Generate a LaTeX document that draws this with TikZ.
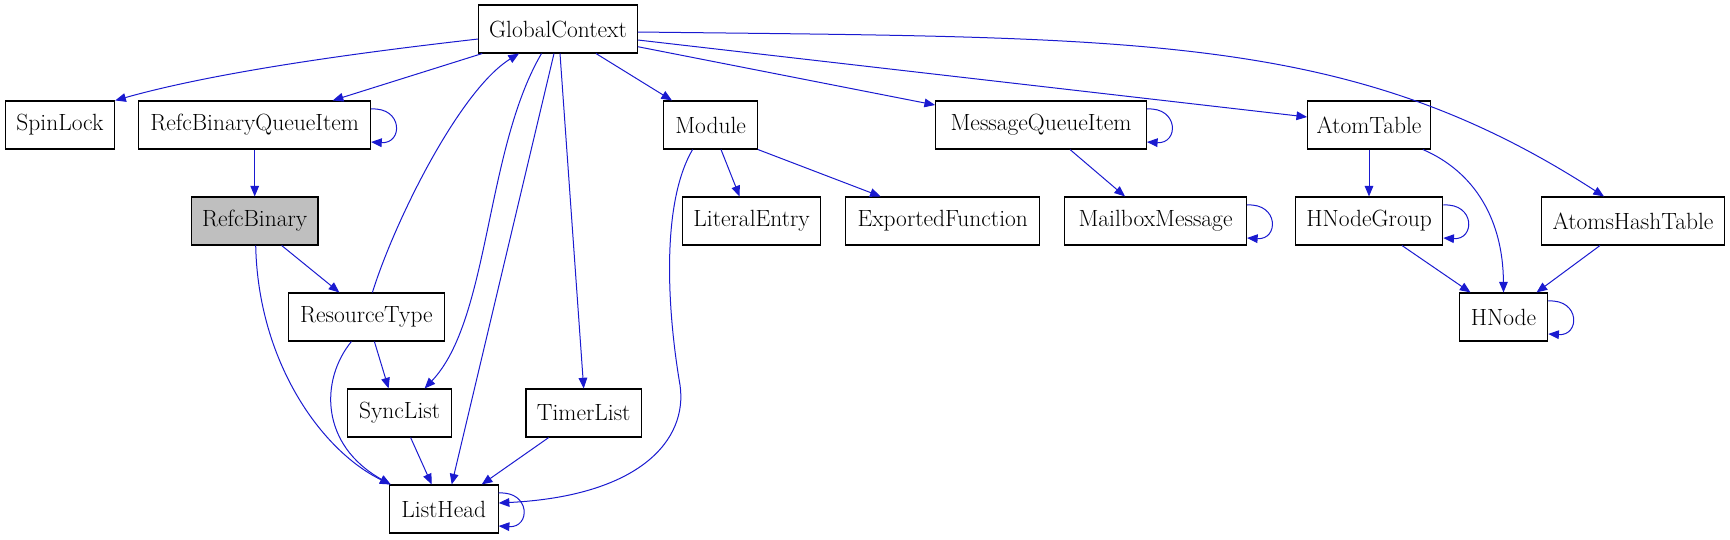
\documentclass[tikz,border=0pt]{standalone}
\usetikzlibrary{arrows.meta,calc}
\definecolor{edgeblue}{RGB}{26,26,208}
\definecolor{nodegray}{RGB}{191,191,191}
\begin{document}
\begin{tikzpicture}[x=0.75pt,y=-0.75pt,>={Triangle[length=8pt,width=6.5pt]},
  font=\fontsize{17.6}{20}\selectfont,
  box/.style={draw,line width=0.8pt,minimum height=36pt,inner sep=2pt},
  edge/.style={->,edgeblue,line width=0.75pt}]
\useasboundingbox (0,0) rectangle (1730,539);
% nodes, row by row
\foreach \nm/\x/\y/\w/\txt in {gc/558/29/118.9/GlobalContext,
  spin/60/125/82/SpinLock,rbqi/254.7/125/173.8/RefcBinaryQueueItem,
  mod/710.6/125/70.2/Module,mqi/1041/125/158.1/MessageQueueItem,
  atab/1369/125/92/AtomTable,
  lit/751.6/221/103.8/LiteralEntry,expf/942.7/221/145.7/ExportedFunction,
  mbox/1155.5/221/136.4/MailboxMessage,hng/1369/221/110.6/HNodeGroup,
  aht/1633/221/137/AtomsHashTable,
  restype/366.4/317/117.3/ResourceType,hnode/1503.5/317/66.3/HNode,
  sync/399.6/413/78.2/SyncList,timer/583.7/413/86.6/TimerList,
  lhead/443.7/509/81.7/ListHead}
  \node[box,minimum width=\w pt] (\nm) at (\x,\y) {\txt};
\node[box,fill=nodegray,minimum width=94.9pt] (rbin) at (254.7,221) {RefcBinary};
% GlobalContext
\draw[edge] ($(gc.west)+(0,10)$) .. controls (400,48) and (230,68) .. (spin.north east);
\draw[edge] ($(gc.south west)+(4,0)$) -- ($(rbqi.north)+(78,0)$);
\draw[edge] ($(gc.south)+(-16.5,0)$) .. controls (485,150) and (490,320) .. ($(sync.north)+(25,0)$);
\draw[edge] ($(gc.south)+(-4,0)$) -- ($(lhead.north)+(8,0)$);
\draw[edge] ($(gc.south)+(2,0)$) -- (timer.north);
\draw[edge] ($(gc.south)+(38,0)$) -- ($(mod.north)+(-38.6,0)$);
\draw[edge] ($(gc.east)+(0,17.7)$) -- ($(mqi.west)+(0,-20)$);
\draw[edge] ($(gc.east)+(0,11)$) -- ($(atab.west)+(0,-8)$);
\draw[edge] ($(gc.east)+(0,3)$) .. controls (1138,38) and (1350,32) .. ($(aht.north)+(-29,0)$);
% left part
\draw[edge] (rbqi.south) -- (rbin.north);
\draw[edge] ($(rbin.south)+(27,0)$) -- ($(restype.north)+(-27,0)$);
\draw[edge] ($(rbin.south)+(1,0)$) .. controls (258,360) and (320,450) .. ($(lhead.north west)+(2,0)$);
\draw[edge] ($(restype.north)+(6,0)$) .. controls (395,220) and (460,90) .. ($(gc.south)+(-39,0)$);
\draw[edge] ($(restype.south)+(8,0)$) -- ($(sync.north)+(-11,0)$);
\draw[edge] ($(restype.south)+(-15,0)$) .. controls (320,380) and (320,445) .. ($(lhead.north west)+(2,0)$);
\draw[edge] ($(sync.south)+(11,0)$) -- ($(lhead.north)+(-12,0)$);
\draw[edge] ($(timer.south)+(-35,0)$) -- ($(lhead.north)+(38,0)$);
% Module
\draw[edge] ($(mod.south)+(-18,0)$) .. controls (660,205) and (668,315) .. (680,385)
  .. controls (688,440) and (640,496) .. ($(lhead.east)+(0,-6)$);
\draw[edge] ($(mod.south)+(10.4,0)$) -- ($(lit.north)+(-12,0)$);
\draw[edge] (mod.south east) -- ($(expf.north)+(-62,0)$);
% right part
\draw[edge] ($(mqi.south)+(29,0)$) -- ($(mbox.north)+(-30.5,0)$);
\draw[edge] (atab.south) -- (hng.north);
\draw[edge] ($(atab.south east)+(-8,0)$) .. controls (1475,172) and (1503,220) .. (hnode.north);
\draw[edge] ($(hng.south)+(33,0)$) -- ($(hnode.north)+(-33,0)$);
\draw[edge] ($(aht.south)+(-33,0)$) -- ($(hnode.north)+(33,0)$);
% self loops
\foreach \nm in {rbqi,mqi,mbox,hng,hnode,lhead}
  \draw[edge] ($(\nm.east)+(0,-16)$) .. controls +(32,-2) and +(32,2) .. ($(\nm.east)+(0,17)$);
\end{tikzpicture}
\end{document}
